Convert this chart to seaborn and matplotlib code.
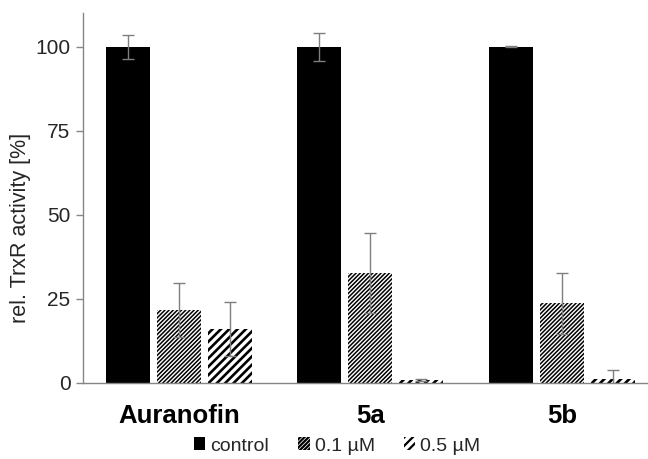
import matplotlib
matplotlib.use("Agg")
import matplotlib.pyplot as plt
import seaborn as sns
import pandas as pd
from matplotlib.patches import Patch

compounds = ["Auranofin", "5a", "5b"]
conditions = ["control", "0.1 µM", "0.5 µM"]
control_vals = [100.0, 100.0, 100.0]
control_err = [3.6, 4.2, 0.2]
low_vals = [21.7, 32.7, 23.7]
low_err = [8.0, 12.0, 9.0]
high_vals = [16.0, 1.0, 1.2]
high_err = [8.0, 0.3, 2.6]
yticks = [0, 25, 50, 75, 100]

sns.set_theme(style="white")
plt.rcParams["font.family"] = ["Liberation Sans", "DejaVu Sans"]
plt.rcParams["hatch.linewidth"] = 1.6
plt.rcParams["hatch.color"] = "black"

rows = []
for cond, vals in zip(conditions, [control_vals, low_vals, high_vals]):
    for comp, v in zip(compounds, vals):
        rows.append({"compound": comp, "condition": cond, "value": v})
df = pd.DataFrame(rows)
errs = {"control": control_err, "0.1 µM": low_err, "0.5 µM": high_err}

fig = plt.figure(figsize=(6.48, 4.59), dpi=100)
ax = fig.add_axes([83 / 648, 1 - 383 / 459, 1 - 83 / 648, (383 - 13) / 459])

palette = {"control": "black", "0.1 µM": "white", "0.5 µM": "white"}
sns.barplot(data=df, x="compound", y="value", hue="condition", order=compounds,
            hue_order=conditions, palette=palette, width=0.8, gap=0.14,
            errorbar=None, legend=False, ax=ax, saturation=1)

hatches = {"control": "", "0.1 µM": "////////", "0.5 µM": "////"}
hlw = {"control": 1.0, "0.1 µM": 1.1, "0.5 µM": 1.9}


def style_patch(p, cond):
    p.set_hatch(hatches[cond])
    p.set_edgecolor("black")
    p.set_linewidth(0)
    if hasattr(p, "set_hatch_linewidth"):
        p.set_hatch_linewidth(hlw[cond])


for cont, cond in zip(ax.containers, conditions):
    xs, ys = [], []
    for p in cont.patches:
        style_patch(p, cond)
        xs.append(p.get_x() + p.get_width() / 2)
        ys.append(p.get_height())
    ax.errorbar(xs, ys, yerr=errs[cond], fmt="none", ecolor="#7f7f7f",
                elinewidth=1, capsize=4, capthick=1, zorder=5)

ax.set_ylim(0, 110)
ax.set_xlim(-0.5, 2.45)
ax.set_yticks(yticks)
ax.set_yticklabels([str(t) for t in yticks], fontsize=15, color="#262626")
ax.set_xlabel("")
ax.set_ylabel("rel. TrxR activity [%]", fontsize=15.5, color="#262626")
ax.yaxis.set_label_coords(-0.092, 0.42)
ax.tick_params(axis="y", which="both", left=True, length=5, width=1, color="#868686", pad=4)
ax.tick_params(axis="x", bottom=False, pad=9)
for lab in ax.get_xticklabels():
    lab.set_fontweight("bold")
    lab.set_fontsize(18.5)
    lab.set_color("black")
sns.despine(ax=ax, top=True, right=True)
for s in ["left", "bottom"]:
    ax.spines[s].set_color("#868686")
    ax.spines[s].set_linewidth(1)

handles = []
for cond in conditions:
    h = Patch(facecolor="black" if cond == "control" else "white")
    style_patch(h, cond)
    handles.append(h)
fig.legend(handles, conditions, loc="center", bbox_to_anchor=(337 / 648, 1 - 446 / 459),
           ncol=3, frameon=False, fontsize=14, handlelength=0.6, handleheight=0.6,
           handletextpad=0.25, columnspacing=1.5)

fig.savefig("out.png", dpi=100)
